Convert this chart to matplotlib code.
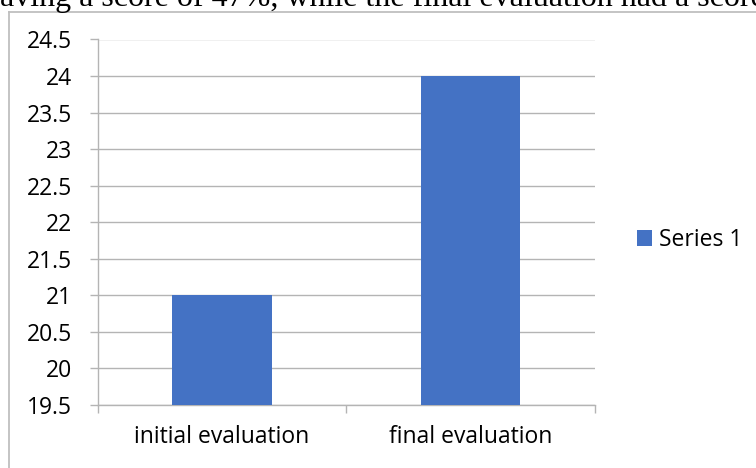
import matplotlib
matplotlib.use("Agg")
import matplotlib.pyplot as plt
from matplotlib.lines import Line2D
from matplotlib.ticker import FixedLocator, FuncFormatter
import numpy as np

# Chart data
categories = ["initial evaluation", "final evaluation"]
scores = [21, 24]
series_name = "Series 1"
y_ticks = [19.5, 20, 20.5, 21, 21.5, 22, 22.5, 23, 23.5, 24, 24.5]
caption = "having a score of 47%, while the final evaluation had a score"

BAR = "#4472C4"
GRID = "#b4b4b4"
FRAME = "#bfbfbf"
W, H = 756, 468
FS = 16.5

plt.rcParams["font.family"] = ["Open Sans", "DejaVu Sans"]

fig = plt.figure(figsize=(W / 100, H / 100), dpi=100)
fig.patch.set_facecolor("white")

# body text line running above the chart box
fig.text(-16 / W, 1 - 6 / H, caption, family="Liberation Serif",
         fontsize=23, va="baseline", ha="left", color="black")

# chart box outline (left and top edges)
fig.add_artist(Line2D([9 / W, 9 / W], [-0.1, 1 - 11.5 / H],
                      transform=fig.transFigure, color=FRAME, lw=1.3))
fig.add_artist(Line2D([9 / W, 1.1], [1 - 11.5 / H, 1 - 11.5 / H],
                      transform=fig.transFigure, color=FRAME, lw=1.3))

left, right = 98 / W, 594.5 / W
bottom, top = 1 - 404.7 / H, 1 - 39.5 / H
ax = fig.add_axes([left, bottom, right - left, top - bottom])

x = np.arange(len(categories))
bars = ax.bar(x, scores, width=0.4, color=BAR, label=series_name, zorder=3)

ax.set_xlim(-0.5, len(categories) - 0.5)
ax.set_ylim(y_ticks[0], y_ticks[-1])

ax.yaxis.set_major_locator(FixedLocator(y_ticks))
ax.yaxis.set_major_formatter(FuncFormatter(lambda v, p: f"{v:g}"))
ax.grid(axis="y", color=GRID, lw=1.0, zorder=0)

ax.set_xticks(x)
ax.set_xticklabels(categories)
ax.set_xticks(np.arange(-0.5, len(categories), 1.0), minor=True)
ax.tick_params(axis="x", which="major", length=0, pad=14.5, labelsize=FS,
               labelcolor="black")
ax.tick_params(axis="x", which="minor", length=5.8, width=1.0, color=GRID,
               direction="out")
ax.tick_params(axis="y", which="major", length=5.8, width=1.0, color=GRID,
               pad=13, labelsize=FS, labelcolor="black", direction="out")

for side in ("top", "right"):
    ax.spines[side].set_visible(False)
for side in ("left", "bottom"):
    ax.spines[side].set_color(GRID)
    ax.spines[side].set_linewidth(1.0)

fig.legend(handles=[bars], labels=[series_name], loc="center left",
           bbox_to_anchor=(637 / W, 1 - 240 / H), frameon=False,
           fontsize=FS, handlelength=0.66, handleheight=0.66,
           handletextpad=0.28, borderpad=0, borderaxespad=0)

fig.savefig("out.png", dpi=100, facecolor="white")
